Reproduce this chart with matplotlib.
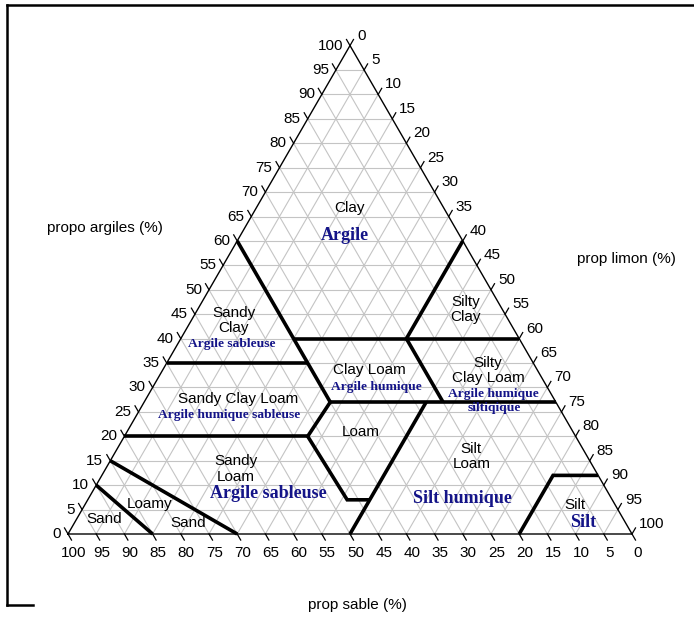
import numpy as np
import matplotlib
matplotlib.use("Agg")
import matplotlib.pyplot as plt
from matplotlib.lines import Line2D

# ---------------- data ----------------
tick_values = list(range(0, 101, 5))
grid_values = list(range(5, 100, 5))

# texture-class boundaries as (sand, silt, clay) in %
bnd_clay_sandy = [(40, 0, 60), (40, 33, 27)]
bnd_clay40 = [(40, 20, 40), (0, 60, 40)]
bnd_silty_clay = [(0, 40, 60), (20, 40, 40)]
bnd_sand20 = [(20, 40, 40), (20, 53, 27)]
bnd_clay27 = [(40, 33, 27), (0, 73, 27)]
bnd_clay35 = [(65, 0, 35), (40, 25, 35)]
bnd_clay20 = [(80, 0, 20), (47.5, 32.5, 20)]
bnd_loam = [(40, 33, 27), (47.5, 32.5, 20), (47, 46, 7), (43, 50, 7)]
bnd_silt50 = [(23, 50, 27), (50, 50, 0)]
bnd_sand = [(90, 0, 10), (85, 15, 0)]
bnd_loamy_sand = [(85, 0, 15), (70, 30, 0)]
bnd_silt = [(20, 80, 0), (8, 80, 12), (0, 88, 12)]
boundaries = [bnd_clay_sandy, bnd_clay40, bnd_silty_clay, bnd_sand20, bnd_clay27,
              bnd_clay35, bnd_clay20, bnd_loam, bnd_silt50, bnd_sand,
              bnd_loamy_sand, bnd_silt]

# English class names and their (sand, silt, clay) anchors
en_labels = ["Clay", "Sandy\nClay", "Silty\nClay", "Clay Loam", "Silty\nClay Loam",
             "Sandy Clay Loam", "Loam", "Sandy\nLoam", "Silt\nLoam", "Silt",
             "Loamy", "Sand", "Sand"]
en_pos = [(16.7, 16.6, 66.7), (48.7, 7.5, 43.8), (6.6, 47.5, 45.9), (29.8, 36.7, 33.5),
          (8.8, 57.7, 33.5), (56.1, 16.3, 27.6), (37.6, 41.5, 20.9), (63.6, 23.1, 13.3),
          (20.6, 63.6, 15.8), (7.2, 86.8, 6.0), (82.4, 11.5, 6.1), (77.6, 20.1, 2.3),
          (92.1, 4.8, 3.1)]

# French class names
fr_labels = ["Argile", "Argile sableuse", "Argile humique", "Argile humique\nsiltiqique",
             "Argile humique sableuse", "Argile sableuse", "Silt humique", "Silt"]
fr_pos = [(20.3, 18.5, 61.2), (51.4, 9.6, 39.0), (30.4, 39.6, 30.0), (10.9, 61.9, 27.2),
          (59.3, 16.3, 24.4), (60.4, 31.4, 8.2), (26.5, 66.3, 7.2), (7.4, 90.2, 2.4)]
fr_big = [True, False, False, False, False, True, True, True]

title_left = "propo argiles (%)"
title_right = "prop limon (%)"
title_bottom = "prop sable (%)"

# ---------------- layout ----------------
W, H = 694, 617
PX = 564.0          # pixels per triangle side
X0, Y0 = 68.0, 534.0
S3 = np.sqrt(3) / 2

def tern(sand, silt, clay):
    return silt / 100.0 + clay / 200.0, clay / 100.0 * S3

plt.rcParams["font.family"] = ["Liberation Sans", "DejaVu Sans"]
fig = plt.figure(figsize=(W / 100, H / 100), dpi=100)
ax = fig.add_axes([0, 0, 1, 1])
ax.set_xlim(-X0 / PX, (W - X0) / PX)
ax.set_ylim(-(H - Y0) / PX, Y0 / PX)
ax.axis("off")

gcol = "#c4c4c4"
for v in grid_values:
    for a, b in [((100 - v, 0, v), (0, 100 - v, v)),
                 ((v, 100 - v, 0), (v, 0, 100 - v)),
                 ((100 - v, v, 0), (0, v, 100 - v))]:
        xa, ya = tern(*a)
        xb, yb = tern(*b)
        ax.plot([xa, xb], [ya, yb], color=gcol, lw=0.8, zorder=1)

# triangle outline
corners = [(100, 0, 0), (0, 100, 0), (0, 0, 100), (100, 0, 0)]
cx, cy = zip(*[tern(*c) for c in corners])
ax.plot(cx, cy, color="black", lw=1.0, zorder=3)

# ticks and tick labels
L = 7 / PX
pt = 0.72  # points per pixel
tfs = 11
for v in tick_values:
    # left axis (clay)
    x, y = tern(100 - v, 0, v)
    ax.plot([x, x - 0.5 * L], [y, y + S3 * L], color="black", lw=0.9, zorder=3)
    ax.annotate(str(v), (x, y), xytext=(-7 * pt, 0), textcoords="offset points",
                ha="right", va="center", fontsize=tfs)
    # right axis (silt)
    x, y = tern(0, v, 100 - v)
    ax.plot([x, x + 0.5 * L], [y, y + S3 * L], color="black", lw=0.9, zorder=3)
    ax.annotate(str(v), (x, y), xytext=(7 * pt, 10 * pt), textcoords="offset points",
                ha="left", va="center", fontsize=tfs)
    # bottom axis (sand)
    x, y = tern(v, 100 - v, 0)
    ax.plot([x, x + 0.5 * L], [y, y - S3 * L], color="black", lw=0.9, zorder=3)
    ax.annotate(str(v), (x, y), xytext=(5.5 * pt, -19 * pt), textcoords="offset points",
                ha="center", va="center", fontsize=tfs)

# boundaries
for b in boundaries:
    bx, by = zip(*[tern(*p) for p in b])
    ax.plot(bx, by, color="black", lw=2.6, solid_capstyle="butt",
            solid_joinstyle="miter", zorder=4)

# labels
for lab, p in zip(en_labels, en_pos):
    x, y = tern(*p)
    ax.text(x, y, lab, ha="center", va="center", fontsize=11, color="black",
            linespacing=1.1, zorder=5)
navy = "#141488"
for lab, p, big in zip(fr_labels, fr_pos, fr_big):
    x, y = tern(*p)
    ax.text(x, y, lab, ha="center", va="center", fontsize=13 if big else 9.7,
            color=navy, family=["Liberation Serif", "DejaVu Serif"], weight="bold",
            linespacing=1.25, zorder=5)

# axis titles
fig.text(105 / W, 1 - 228 / H, title_left, ha="center", va="center", fontsize=11)
fig.text(626 / W, 1 - 259 / H, title_right, ha="center", va="center", fontsize=11)
fig.text(357 / W, 1 - 605 / H, title_bottom, ha="center", va="center", fontsize=11)

# partial frame
fl = dict(transform=fig.transFigure, color="black", lw=1.8)
fig.add_artist(Line2D([6.5 / W, 1.0], [1 - 4.5 / H, 1 - 4.5 / H], **fl))
fig.add_artist(Line2D([6.5 / W, 6.5 / W], [1 - 4.5 / H, 1 - 605 / H], **fl))
fig.add_artist(Line2D([6.5 / W, 33 / W], [1 - 605 / H, 1 - 605 / H], **fl))

fig.savefig("out.png", dpi=100)
